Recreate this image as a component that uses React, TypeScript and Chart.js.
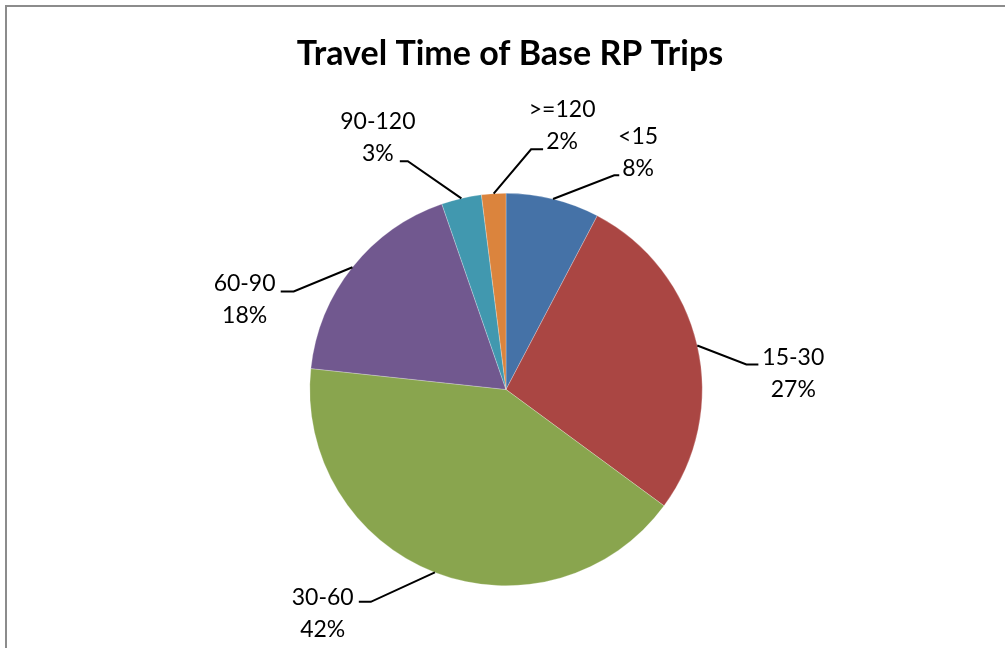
import React, { useEffect, useRef } from "react";
import { Chart, registerables } from "chart.js";

Chart.register(...registerables);

const categories = ["<15", "15-30", "30-60", "60-90", "90-120", ">=120"];
const values = [7.7, 27.4, 41.6, 18.0, 3.3, 2.0];
const colors = ["#4572A7", "#AA4643", "#89A54E", "#71588F", "#4198AF", "#DB843D"];
const title = "Travel Time of Base RP Trips";

// label placement relative to pie centre, in units of radius
const labelLayout = [
  { tx: 0.673, ty: -1.207, ex: 0.577, ey: -1.092, h: 5 },
  { tx: 1.464, ty: -0.082, ex: 1.286, ey: -0.128, h: 12 },
  { tx: -0.934, ty: 1.143, ex: -0.75, ey: 1.082, h: 12 },
  { tx: -1.332, ty: -0.459, ex: -1.148, ey: -0.5, h: 13 },
  { tx: -0.653, ty: -1.286, ex: -0.541, ey: -1.163, h: 8 },
  { tx: 0.286, ty: -1.347, ex: 0.189, ey: -1.224, h: 12 },
];

const decorPlugin = {
  id: "decor",
  beforeDraw(chart: any) {
    const ctx = chart.ctx;
    ctx.save();
    ctx.fillStyle = "#ffffff";
    ctx.fillRect(0, 0, chart.width, chart.height);
    ctx.strokeStyle = "#8c8c8c";
    ctx.lineWidth = 2;
    ctx.strokeRect(6, 6, chart.width + 100, chart.height + 100);
    ctx.restore();
  },
  afterDraw(chart: any) {
    const ctx = chart.ctx;
    const meta = chart.getDatasetMeta(0);
    const total = values.reduce((a, b) => a + b, 0);
    ctx.save();
    // title
    ctx.fillStyle = "#000";
    ctx.font = "bold 34px Lato";
    ctx.textAlign = "center";
    ctx.textBaseline = "alphabetic";
    ctx.fillText(title, 510, 65);

    ctx.font = "23px Lato";
    meta.data.forEach((arc: any, i: number) => {
      const p = arc.getProps(["x", "y", "startAngle", "endAngle", "outerRadius"], true);
      const r = p.outerRadius;
      const mid = (p.startAngle + p.endAngle) / 2;
      const sx = p.x + Math.cos(mid) * r;
      const sy = p.y + Math.sin(mid) * r;
      const L = labelLayout[i];
      const ex = p.x + L.ex * r;
      const ey = p.y + L.ey * r;
      const tx = p.x + L.tx * r;
      const ty = p.y + L.ty * r;
      const dir = tx > ex ? -1 : 1;
      const bx = ex + dir * L.h;
      ctx.strokeStyle = "#000";
      ctx.lineWidth = 2;
      ctx.beginPath();
      ctx.moveTo(sx, sy);
      ctx.lineTo(bx, ey);
      ctx.lineTo(ex, ey);
      ctx.stroke();
      const pct = Math.round((values[i] / total) * 100) + "%";
      ctx.fillStyle = "#000";
      ctx.textAlign = "center";
      ctx.textBaseline = "middle";
      ctx.fillText(categories[i], tx, ty - 16);
      ctx.fillText(pct, tx, ty + 16);
    });
    ctx.restore();
  },
};

export default function App() {
  const ref = useRef<HTMLCanvasElement>(null);
  useEffect(() => {
    if (!ref.current) return;
    const chart = new Chart(ref.current, {
      type: "pie",
      data: {
        labels: categories,
        datasets: [
          {
            data: values,
            backgroundColor: colors,
            borderColor: "rgba(255,255,255,0.5)",
            borderWidth: 0.5,
          },
        ],
      },
      options: {
        responsive: false,
        maintainAspectRatio: false,
        animation: false,
        devicePixelRatio: 1,
        layout: { padding: { top: 193, bottom: 62, left: 309, right: 302 } },
        plugins: {
          legend: { display: false },
          tooltip: { enabled: false },
          title: { display: false },
        },
      },
      plugins: [decorPlugin],
    });
    return () => chart.destroy();
  }, []);
  return (
    <div style={{ position: "fixed", left: 0, top: 0, width: 1005, height: 648, background: "#fff" }}>
      <canvas ref={ref} width={1005} height={648} style={{ display: "block" }} />
    </div>
  );
}
